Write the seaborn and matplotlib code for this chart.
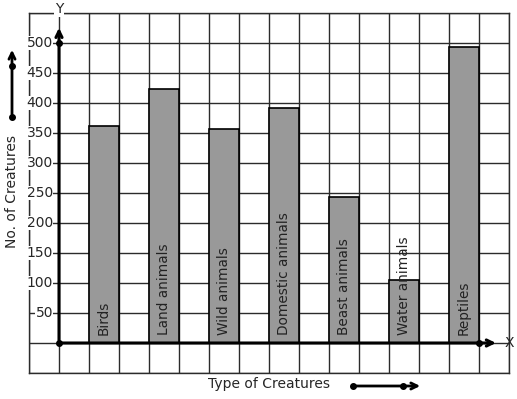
import matplotlib
matplotlib.use("Agg")
import matplotlib.pyplot as plt
import seaborn as sns
import numpy as np

# data
creatures = ["Birds", "Land animals", "Wild animals", "Domestic animals",
             "Beast animals", "Water animals", "Reptiles"]
counts = [361, 424, 357, 391, 244, 105, 493]
y_labels = [50, 100, 150, 200, 250, 300, 350, 400, 450, 500]

W, H = 517, 399
sns.set_style("white")
plt.rcParams["font.family"] = ["DejaVu Sans"]

fig = plt.figure(figsize=(W / 100, H / 100), dpi=100)
ax = fig.add_axes([29 / W, 26 / H, 480 / W, 360 / H])

sns.barplot(x=creatures, y=counts, ax=ax, width=0.5, color="#999999",
            edgecolor="black", linewidth=1.2, saturation=1, zorder=2)

# grid of squares: half a category per column, 50 per row
ax.set_xlim(-1.25, 6.75)
ax.set_ylim(-50, 550)
ax.set_xticks(np.arange(-1.25, 6.76, 0.5))
ax.set_yticks(np.arange(-50, 551, 50))
ax.grid(True, color="#2b2b2b", linewidth=1)
ax.set_axisbelow(True)
ax.tick_params(length=0, labelbottom=False, labelleft=False)
ax.set_xlabel("")
ax.set_ylabel("")
for s in ax.spines.values():
    s.set_color("#2b2b2b")
    s.set_linewidth(1)

# bar names written inside bars
for i, name in enumerate(creatures):
    ax.text(i, 14, name, rotation=90, ha="center", va="bottom",
            fontsize=9.8, color="#222222", zorder=4)

# y values with white background on the grid
for v in y_labels:
    ax.text(-0.85, v, str(v), ha="right", va="center", fontsize=10,
            bbox=dict(facecolor="white", edgecolor="none", pad=0.3), zorder=3)

# thick axes with arrows
ox = -0.75
head = "->,head_length=0.45,head_width=0.22"
ax.annotate("", xy=(ox, 530), xytext=(ox, 0),
            arrowprops=dict(arrowstyle=head, lw=2.2, color="black"),
            annotation_clip=False, zorder=5)
ax.annotate("", xy=(6.58, 0), xytext=(ox, 0),
            arrowprops=dict(arrowstyle=head, lw=2.2, color="black"),
            annotation_clip=False, zorder=5)
ax.plot([ox, ox, 6.25], [0, 500, 0], "o", color="black", markersize=4,
        clip_on=False, zorder=6)
ax.text(ox, 556, "Y", ha="center", va="center", fontsize=10,
        bbox=dict(facecolor="white", edgecolor="none", pad=0.3), zorder=6)
ax.text(6.75, 0, "X", ha="center", va="center", fontsize=10, clip_on=False)

# axis titles with little arrows, in figure pixels
fig.text(12 / W, 1 - 192 / H, "No. of Creatures", rotation=90,
         ha="center", va="center", fontsize=10)
fig.text(269 / W, 1 - 384 / H, "Type of Creatures", ha="center",
         va="center", fontsize=10)

arr = dict(arrowstyle=head, lw=2, color="black")
ax.annotate("", xy=(12 / W, 1 - 47 / H), xytext=(12 / W, 1 - 117 / H),
            xycoords="figure fraction", textcoords="figure fraction", arrowprops=arr)
ax.annotate("", xy=(423 / W, 1 - 386 / H), xytext=(353 / W, 1 - 386 / H),
            xycoords="figure fraction", textcoords="figure fraction", arrowprops=arr)
fig.add_artist(plt.Line2D([12 / W, 12 / W, 353 / W, 403 / W],
                          [1 - 117 / H, 1 - 66 / H, 1 - 386 / H, 1 - 386 / H],
                          transform=fig.transFigure, linestyle="none",
                          marker="o", markersize=4, color="black"))

fig.savefig("out.png", dpi=100)
